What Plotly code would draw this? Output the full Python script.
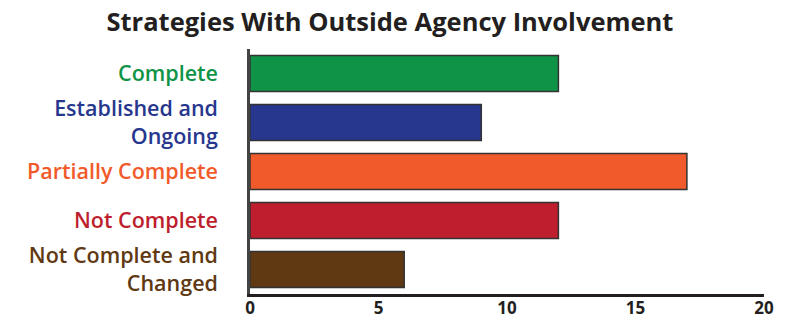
import plotly.graph_objects as go

categories = ["Complete", "Established and<br>Ongoing", "Partially Complete",
              "Not Complete", "Not Complete and<br>Changed"]
values = [12, 9, 17, 12, 6]
colors = ["#0f9447", "#27378e", "#f15a2b", "#be1e2d", "#603913"]
x_ticks = [0, 5, 10, 15, 20]

title_text = "Strategies With Outside Agency Involvement"
font_family = "'Open Sans', Lato, sans-serif"
ink = "#231f20"

tick_text = [f"<span style='color:{c}'>{t}</span>" for t, c in zip(categories, colors)]

fig = go.Figure(
    go.Bar(
        x=values,
        y=categories,
        orientation="h",
        marker=dict(color=colors, line=dict(color="#333333", width=1.5)),
        hoverinfo="x+y",
    )
)

fig.update_layout(
    width=791,
    height=320,
    margin=dict(l=250, r=27, t=49, b=26),
    paper_bgcolor="white",
    plot_bgcolor="white",
    bargap=0.265,
    showlegend=False,
    title=dict(
        text=title_text,
        x=0.493, xanchor="center", y=0.93, yanchor="middle",
        font=dict(family=font_family, size=25.5, weight=700, color=ink),
    ),
    font=dict(family=font_family),
)

fig.update_xaxes(
    range=[0, 20],
    tickvals=x_ticks,
    tickfont=dict(size=17, weight=700, color=ink),
    showgrid=False,
    zeroline=False,
    showline=True,
    linecolor=ink,
    linewidth=3,
    ticks="",
    ticklabelstandoff=-3,
    automargin=False,
)

fig.update_yaxes(
    categoryorder="array",
    categoryarray=categories,
    autorange="reversed",
    tickvals=categories,
    ticktext=tick_text,
    tickfont=dict(size=21.5, weight=600),
    showgrid=False,
    zeroline=False,
    showline=True,
    linecolor="#444444",
    linewidth=2.5,
    ticks="",
    ticklabelstandoff=25,
    automargin=False,
)

fig.write_html("out.html")
